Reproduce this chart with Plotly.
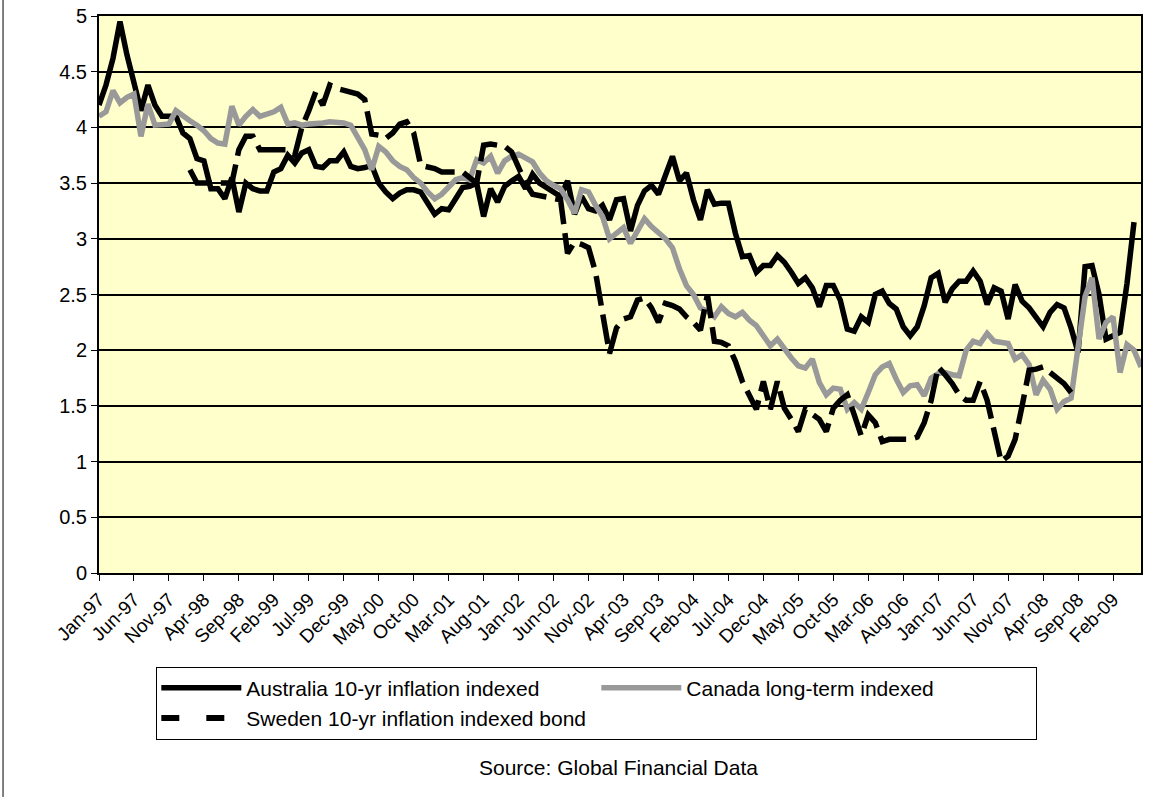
import pandas as pd
import plotly.graph_objects as go

# Monthly categories Jan-97 .. Jun-09
MONTHS = [d.strftime("%b-%y") for d in pd.date_range("1997-01-01", periods=150, freq="MS")]

TICK_LABELS = ["Jan-97", "Jun-97", "Nov-97", "Apr-98", "Sep-98", "Feb-99", "Jul-99", "Dec-99",
               "May-00", "Oct-00", "Mar-01", "Aug-01", "Jan-02", "Jun-02", "Nov-02", "Apr-03",
               "Sep-03", "Feb-04", "Jul-04", "Dec-04", "May-05", "Oct-05", "Mar-06", "Aug-06",
               "Jan-07", "Jun-07", "Nov-07", "Apr-08", "Sep-08", "Feb-09"]

AUSTRALIA = [4.2, 4.38, 4.62, 4.95, 4.65, 4.42, 4.15, 4.38, 4.2, 4.1,
             4.1, 4.1, 3.95, 3.9, 3.72, 3.7, 3.45, 3.45, 3.36, 3.55,
             3.24, 3.5, 3.45, 3.43, 3.43, 3.6, 3.63, 3.75, 3.68, 3.77,
             3.8, 3.65, 3.64, 3.7, 3.7, 3.78, 3.65, 3.63, 3.64, 3.66,
             3.5, 3.42, 3.36, 3.41, 3.44, 3.44, 3.42, 3.33, 3.22, 3.27,
             3.26, 3.36, 3.46, 3.47, 3.5, 3.2, 3.45, 3.33, 3.47, 3.52,
             3.56, 3.45, 3.58, 3.5, 3.46, 3.43, 3.38, 3.52, 3.22, 3.38,
             3.27, 3.25, 3.3, 3.17, 3.35, 3.36, 3.07, 3.3, 3.43, 3.48,
             3.4, 3.57, 3.74, 3.52, 3.59, 3.35, 3.17, 3.44, 3.31, 3.32,
             3.32, 3.05, 2.84, 2.85, 2.7, 2.76, 2.76, 2.85, 2.79, 2.7,
             2.6, 2.65, 2.56, 2.39, 2.58, 2.58, 2.45, 2.19, 2.17, 2.3,
             2.25, 2.5, 2.53, 2.42, 2.37, 2.21, 2.13, 2.21, 2.4, 2.65,
             2.69, 2.43, 2.55, 2.62, 2.62, 2.71, 2.62, 2.41, 2.56, 2.53,
             2.28, 2.59, 2.44, 2.38, 2.3, 2.21, 2.34, 2.41, 2.38, 2.2,
             1.98, 2.75, 2.76, 2.5, 2.1, 2.13, 2.16, 2.6, 3.15, None]

CANADA = [4.1, 4.14, 4.33, 4.22, 4.27, 4.3, 3.92, 4.21, 4.02, 4.02,
          4.03, 4.15, 4.1, 4.06, 4.02, 3.97, 3.9, 3.86, 3.85, 4.19,
          4.02, 4.1, 4.16, 4.1, 4.12, 4.14, 4.18, 4.03, 4.04, 4.02,
          4.03, 4.03, 4.04, 4.05, 4.05, 4.04, 4.02, 3.92, 3.8, 3.62,
          3.83, 3.78, 3.7, 3.65, 3.62, 3.55, 3.5, 3.42, 3.36, 3.4,
          3.47, 3.53, 3.55, 3.53, 3.71, 3.68, 3.74, 3.59, 3.7, 3.74,
          3.76, 3.73, 3.69, 3.59, 3.52, 3.48, 3.45, 3.35, 3.23, 3.44,
          3.42, 3.3, 3.2, 3.0, 3.05, 3.1, 2.96, 3.07, 3.18, 3.11,
          3.05, 3.0, 2.92, 2.73, 2.58, 2.5, 2.38, 2.35, 2.3, 2.39,
          2.33, 2.3, 2.34, 2.27, 2.22, 2.12, 2.04, 2.1, 2.01, 1.93,
          1.86, 1.84, 1.92, 1.71, 1.6, 1.66, 1.65, 1.47, 1.53, 1.47,
          1.62, 1.78, 1.85, 1.88, 1.74, 1.62, 1.68, 1.69, 1.59, 1.75,
          1.79, 1.8, 1.78, 1.77, 2.0, 2.08, 2.06, 2.15, 2.08, 2.07,
          2.06, 1.92, 1.96, 1.87, 1.6, 1.73, 1.65, 1.47, 1.54, 1.57,
          2.05, 2.48, 2.65, 2.1, 2.25, 2.3, 1.8, 2.05, 2.0, 1.85]

SWEDEN = ([None] * 13 +
          [3.62, 3.5, 3.5, 3.5, 3.5, 3.5, 3.5,
           3.8, 3.92, 3.92, 3.8, 3.8, 3.8, 3.8, 3.8, 3.75, 4.0,
           4.15, 4.32, 4.2, 4.38, 4.35, 4.33, 4.31, 4.3, 4.25, 3.94,
           3.93, 3.9, 3.95, 4.03, 4.05, 3.95, 3.66, 3.65, 3.63, 3.6,
           3.6, 3.6, 3.6, 3.55, 3.5, 3.84, 3.85, 3.84, 3.83, 3.78,
           3.65, 3.5, 3.4, 3.39, 3.38, 3.37, 3.35, 2.87, 2.97, 2.95,
           2.92, 2.7, 2.3, 1.97, 2.2, 2.28, 2.3, 2.45, 2.47, 2.38,
           2.25, 2.42, 2.4, 2.37, 2.3, 2.25, 2.18, 2.5, 2.08, 2.07,
           2.04, 1.9, 1.72, 1.58, 1.47, 1.72, 1.47, 1.72, 1.48, 1.38,
           1.27, 1.47, 1.42, 1.38, 1.27, 1.48, 1.55, 1.6, 1.42, 1.23,
           1.42, 1.35, 1.18, 1.2, 1.2, 1.2, 1.2, 1.22, 1.35, 1.55,
           1.85, 1.78, 1.7, 1.6, 1.55, 1.55, 1.72, 1.55, 1.3, 1.0,
           1.05, 1.2, 1.5, 1.82, 1.83, 1.85, 1.8, 1.75, 1.7, 1.62] +
          [None] * 10)

FONT = "Arial, 'Liberation Sans', sans-serif"

fig = go.Figure()
fig.add_trace(go.Scatter(x=MONTHS, y=AUSTRALIA, mode="lines",
                         name="Australia 10-yr inflation indexed",
                         line=dict(color="black", width=5.5)))
fig.add_trace(go.Scatter(x=MONTHS, y=CANADA, mode="lines",
                         name="Canada long-term indexed",
                         line=dict(color="#999999", width=5.5)))
fig.add_trace(go.Scatter(x=MONTHS, y=SWEDEN, mode="lines",
                         name="Sweden 10-yr inflation indexed bond",
                         legendgroup="swe", showlegend=False,
                         line=dict(color="black", width=5.5, dash="30px,9px")))
# legend entry for Sweden (legend sample uses the wider dash spacing of the original key)
fig.add_trace(go.Scatter(x=[None], y=[None], mode="lines",
                         name="Sweden 10-yr inflation indexed bond",
                         legendgroup="swe", showlegend=True, hoverinfo="skip",
                         line=dict(color="black", width=6, dash="18px,27px")))

fig.update_layout(
    width=1155, height=797,
    margin=dict(l=99, r=14, t=16, b=224, autoexpand=False),
    plot_bgcolor="#FFFFCC", paper_bgcolor="white",
    font=dict(family=FONT, color="black"),
    showlegend=True,
    legend=dict(orientation="h", x=0.055, y=-0.168, xanchor="left", yanchor="top",
                bordercolor="black", borderwidth=1, bgcolor="white",
                font=dict(size=21, family=FONT, color="black"),
                entrywidth=345, entrywidthmode="pixels", itemwidth=80,
                tracegroupgap=0),
    annotations=[dict(text="Source: Global Financial Data", xref="paper", yref="paper",
                      x=0.499, y=-0.35, xanchor="center", yanchor="middle", showarrow=False,
                      font=dict(size=21, family=FONT, color="black"))],
    shapes=[dict(type="line", xref="paper", yref="paper", x0=-0.0921, x1=-0.0921,
                 y0=-0.402, y1=1.03, line=dict(color="black", width=1))],
)

fig.update_xaxes(type="category", range=[0, 149], tickmode="array",
                 tickvals=TICK_LABELS, ticktext=TICK_LABELS, tickangle=-45,
                 ticks="outside", ticklen=6, tickcolor="black", tickwidth=1,
                 showline=True, linecolor="black", linewidth=2, mirror=True,
                 showgrid=False, automargin=False,
                 tickfont=dict(size=19, family=FONT, color="black"))
fig.update_yaxes(range=[0, 5], dtick=0.5, tick0=0, ticks="outside", ticklen=6,
                 tickcolor="black", tickwidth=1, showline=True, linecolor="black",
                 linewidth=2, mirror=True, showgrid=True, gridcolor="black", gridwidth=2,
                 zeroline=False, automargin=False,
                 tickfont=dict(size=20, family=FONT, color="black"))

fig.write_html("out.html", config={"displayModeBar": False},
               post_script="document.body.style.margin='0px';")
